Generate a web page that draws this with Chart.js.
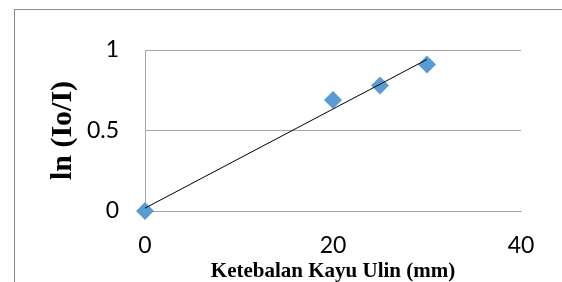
<!DOCTYPE html>
<html>
<head>
<meta charset="utf-8">
<script src="https://cdn.jsdelivr.net/npm/chart.js@4.4.0/dist/chart.umd.min.js"></script>
<style>
    body { margin: 0; background: #fff; }
    canvas { display: block; }
</style>
</head>
<body>
<canvas id="myChart" width="562" height="282"></canvas>
<script>
// data
const thickness = [0, 20, 25, 30];
const lnRatio = [0, 0.69, 0.78, 0.91];
const xTicks = [0, 20, 40];
const yTicks = [0, 0.5, 1];
const xTitle = 'Ketebalan Kayu Ulin (mm)';
const yTitle = 'ln (Io/I)';

// least squares line through the points (the linear trendline)
function linearFit(xs, ys) {
    let n = xs.length;
    let mx = xs.reduce((a, b) => a + b, 0) / n;
    let my = ys.reduce((a, b) => a + b, 0) / n;
    let sxx = 0, sxy = 0;
    for (let i = 0; i < n; i++) {
        sxx += (xs[i] - mx) * (xs[i] - mx);
        sxy += (xs[i] - mx) * (ys[i] - my);
    }
    let slope = sxy / sxx;
    return {slope: slope, intercept: my - slope * mx};
}

const fit = linearFit(thickness, lnRatio);
const xFirst = Math.min(...thickness);
const xLast = Math.max(...thickness);
const trend = [xFirst, xLast].map(x => ({x: x, y: fit.intercept + fit.slope * x}));
const points = thickness.map((x, i) => ({x: x, y: lnRatio[i]}));

// grey frame round the whole chart object
const frame = {
    id: 'frame',
    beforeDraw(chart) {
        const ctx = chart.ctx;
        ctx.save();
        ctx.fillStyle = '#fff';
        ctx.fillRect(0, 0, chart.width, chart.height);
        ctx.strokeStyle = '#8c8c8c';
        ctx.lineWidth = 1;
        ctx.strokeRect(14.5, 9.5, chart.width, chart.height);
        ctx.restore();
    }
};

const tickFont = {family: 'Lato', size: 23};
const titleFont = {family: 'Liberation Serif', weight: 'bold'};

const ctx = document.getElementById('myChart').getContext('2d');
new Chart(ctx, {
    type: 'scatter',
    data: {
        datasets: [{
            label: 'trend',
            data: trend,
            showLine: true,
            borderColor: '#000',
            borderWidth: 1,
            pointRadius: 0,
            clip: false,
            order: 0
        }, {
            label: 'ln (Io/I)',
            data: points,
            pointStyle: 'rectRot',
            pointRadius: 9,
            pointBackgroundColor: '#5b9bd5',
            pointBorderColor: '#5b9bd5',
            pointBorderWidth: 0,
            clip: false,
            order: 1
        }]
    },
    options: {
        responsive: false,
        animation: false,
        events: [],
        layout: {padding: {top: 50, right: 41, left: 0, bottom: 0}},
        plugins: {
            legend: {display: false},
            tooltip: {enabled: false}
        },
        scales: {
            x: {
                type: 'linear',
                min: xTicks[0],
                max: xTicks[xTicks.length - 1],
                afterBuildTicks: s => { s.ticks = xTicks.map(v => ({value: v})); },
                afterFit: s => { s.height = 71; },
                grid: {display: false, drawTicks: false},
                border: {display: true, color: '#a6a6a6'},
                ticks: {
                    font: tickFont,
                    color: '#000',
                    padding: 21,
                    maxRotation: 0,
                    callback: v => String(v)
                },
                title: {
                    display: true,
                    text: xTitle,
                    color: '#000',
                    font: Object.assign({size: 21, lineHeight: 1}, titleFont),
                    padding: {top: 0, bottom: 0}
                }
            },
            y: {
                type: 'linear',
                min: yTicks[0],
                max: yTicks[yTicks.length - 1],
                afterBuildTicks: s => { s.ticks = yTicks.map(v => ({value: v})); },
                afterFit: s => { s.width = 145; },
                grid: {color: '#a6a6a6', drawTicks: false},
                border: {display: true, color: '#a6a6a6'},
                ticks: {
                    font: tickFont,
                    color: '#000',
                    padding: 26,
                    callback: v => String(v)
                },
                title: {
                    display: true,
                    text: yTitle,
                    color: '#000',
                    font: Object.assign({size: 30}, titleFont),
                    padding: {top: 45, bottom: 0}
                }
            }
        }
    },
    plugins: [frame]
});
</script>
</body>
</html>
